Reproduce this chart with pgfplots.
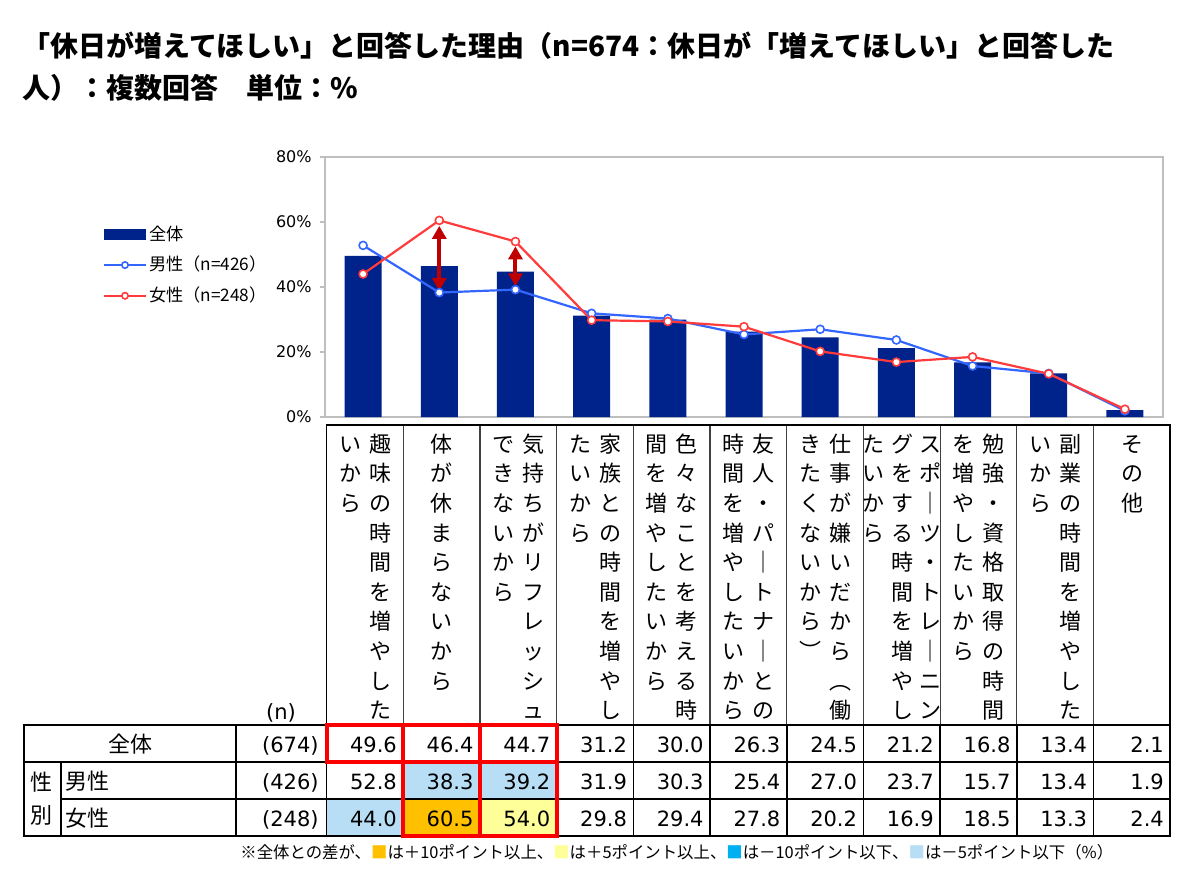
\documentclass[border=0pt]{standalone}
\usepackage{pgfplots}
\pgfplotsset{compat=1.18}
\usetikzlibrary{arrows.meta}
\usepackage{fontspec}
\setmainfont{Noto Sans CJK JP}
\newfontfamily\numfont{DejaVu Sans}
\definecolor{navy}{RGB}{0,34,139}
\definecolor{mblue}{RGB}{51,102,255}
\definecolor{fred}{RGB}{255,59,59}
\definecolor{arrowred}{RGB}{192,0,0}
\definecolor{lblue}{RGB}{183,222,245}
\definecolor{orng}{RGB}{255,192,0}
\definecolor{lyel}{RGB}{255,255,153}
\definecolor{cyanb}{RGB}{0,176,240}
\definecolor{boxred}{RGB}{250,0,0}
\newcommand{\vstrut}{\rule{0pt}{0.9em}}
\newcommand{\vc}[2]{\node[anchor=north, inner sep=0pt, align=center, font=\fontsize{11}{14.8}\selectfont] at (#1,432) {\vstrut #2};}
\pgfplotsset{
  linelegend/.style={legend image code/.code={\draw[mark repeat=2,mark phase=2,mark size=1.6pt,##1] plot coordinates {(0pt,0pt) (10.5pt,0pt) (21pt,0pt)};}},
  barlegend/.style={legend image code/.code={\fill[navy] (0pt,-2.7pt) rectangle (21pt,2.7pt);}}
}
\begin{document}
\begin{tikzpicture}
\begin{scope}[x=0.5pt,y=-0.5pt]
\useasboundingbox (0,0) rectangle (1200,880);
% title
\node[anchor=base west, inner sep=0pt, font=\fontsize{14}{16}\selectfont\bfseries] at (22,56) {「休日が増えてほしい」と回答した理由（n=674：休日が「増えてほしい」と回答した};
\node[anchor=base west, inner sep=0pt, font=\fontsize{14}{16}\selectfont\bfseries] at (22,98) {人）：複数回答　単位：\%};
% cell fills
\fill[lblue] (326.5,799) rectangle (403.2,836);
\fill[lblue] (403.2,762) rectangle (479.9,799);
\fill[lblue] (479.9,762) rectangle (556.6,799);
\fill[orng] (403.2,799) rectangle (479.9,836);
\fill[lyel] (479.9,799) rectangle (556.6,836);
% header box
\draw[black!75, line width=0.6pt] \foreach \k in {1,...,10} {({326.5+76.7*\k},425) -- ({326.5+76.7*\k},725)};
\draw[black, line width=0.8pt] (326.5,725) -- (326.5,425) -- (1170,425) -- (1170,725);
% data table
\draw[black, line width=0.8pt] (24,725) rectangle (1170,836);
\draw[black, line width=0.8pt] (24,762) -- (1170,762);
\draw[black, line width=0.8pt] (61,799) -- (1170,799);
\draw[black, line width=0.8pt] (61,762) -- (61,836);
\draw[black, line width=0.8pt] (236,725) -- (236,836);
\draw[black, line width=0.8pt] \foreach \k in {0,...,10} {({326.5+76.7*\k},725) -- ({326.5+76.7*\k},836)};
% red boxes
\draw[boxred, line width=2pt] (326.5,725) rectangle (403.2,762);
\draw[boxred, line width=2pt] (403.2,725) rectangle (479.9,762);
\draw[boxred, line width=2pt] (479.9,725) rectangle (556.6,762);
\draw[boxred, line width=2pt] (403.2,762) rectangle (479.9,836);
\draw[boxred, line width=2pt] (479.9,762) rectangle (556.6,836);
% category labels (vertical)
\vc{380}{趣\\味\\の\\時\\間\\を\\増\\や\\し\\た}
\vc{350}{い\\か\\ら}
\vc{441.5}{体\\が\\休\\ま\\ら\\な\\い\\か\\ら}
\vc{533}{気\\持\\ち\\が\\リ\\フ\\レ\\ッ\\シ\\ュ}
\vc{503}{で\\き\\な\\い\\か\\ら}
\vc{610}{家\\族\\と\\の\\時\\間\\を\\増\\や\\し}
\vc{580}{た\\い\\か\\ら}
\vc{686.5}{色\\々\\な\\こ\\と\\を\\考\\え\\る\\時}
\vc{656.5}{間\\を\\増\\や\\し\\た\\い\\か\\ら}
\vc{763}{友\\人\\・\\パ\\｜\\ト\\ナ\\｜\\と\\の}
\vc{733}{時\\間\\を\\増\\や\\し\\た\\い\\か\\ら}
\vc{840}{仕\\事\\が\\嫌\\い\\だ\\か\\ら\\︵\\働}
\vc{810}{き\\た\\く\\な\\い\\か\\ら\\︶}
\vc{930}{ス\\ポ\\｜\\ツ\\・\\ト\\レ\\｜\\ニ\\ン}
\vc{902}{グ\\を\\す\\る\\時\\間\\を\\増\\や\\し}
\vc{873}{た\\い\\か\\ら}
\vc{993.5}{勉\\強\\・\\資\\格\\取\\得\\の\\時\\間}
\vc{963.5}{を\\増\\や\\し\\た\\い\\か\\ら}
\vc{1070}{副\\業\\の\\時\\間\\を\\増\\や\\し\\た}
\vc{1040}{い\\か\\ら}
\vc{1132}{そ\\の\\他}
% row labels
\node[anchor=base, inner sep=0pt, font=\numfont\fontsize{10.5}{12}\selectfont] at (281,719) {(n)};
\node[anchor=base, inner sep=0pt, font=\fontsize{11}{13}\selectfont] at (130,752) {全体};
\node[anchor=base, inner sep=0pt, font=\fontsize{11}{13}\selectfont] at (42,790) {性};
\node[anchor=base, inner sep=0pt, font=\fontsize{11}{13}\selectfont] at (42,823) {別};
\node[anchor=base west, inner sep=0pt, font=\fontsize{11}{13}\selectfont] at (65,789) {男性};
\node[anchor=base west, inner sep=0pt, font=\fontsize{11}{13}\selectfont] at (65,826) {女性};
\node[anchor=base east, inner sep=0pt, font=\numfont\fontsize{10.5}{12}\selectfont] at (319,752) {(674)};
\node[anchor=base east, inner sep=0pt, font=\numfont\fontsize{10.5}{12}\selectfont] at (319,789) {(426)};
\node[anchor=base east, inner sep=0pt, font=\numfont\fontsize{10.5}{12}\selectfont] at (319,826) {(248)};
% table values
\foreach \v [count=\i] in {49.6,46.4,44.7,31.2,30.0,26.3,24.5,21.2,16.8,13.4,2.1}
  \node[anchor=base east, inner sep=0pt, font=\numfont\fontsize{10.5}{12}\selectfont] at ({326.5+76.7*\i-6},752) {\v};
\foreach \v [count=\i] in {52.8,38.3,39.2,31.9,30.3,25.4,27.0,23.7,15.7,13.4,1.9}
  \node[anchor=base east, inner sep=0pt, font=\numfont\fontsize{10.5}{12}\selectfont] at ({326.5+76.7*\i-6},789) {\v};
\foreach \v [count=\i] in {44.0,60.5,54.0,29.8,29.4,27.8,20.2,16.9,18.5,13.3,2.4}
  \node[anchor=base east, inner sep=0pt, font=\numfont\fontsize{10.5}{12}\selectfont] at ({326.5+76.7*\i-6},826) {\v};
% footnote
\node[anchor=base west, inner sep=0pt, font=\fontsize{8.2}{10}\selectfont] at (240,858) {※全体との差が、\textcolor{orng}{■}は＋10ポイント以上、\textcolor{lyel}{■}は＋5ポイント以上、\textcolor{cyanb}{■}は－10ポイント以下、\textcolor{lblue}{■}は－5ポイント以下（\%）};
\end{scope}
\begin{axis}[
  at={(162.5pt,-208.5pt)}, anchor=south west,
  width=419pt, height=130pt, scale only axis,
  xmin=0.5, xmax=11.5, ymin=0, ymax=80,
  axis line style={draw=black!25, line width=0.8pt},
  xtick=\empty,
  ytick={0,20,40,60,80},
  yticklabels={0\%,20\%,40\%,60\%,80\%},
  ytick pos=left,
  tick align=outside,
  major tick length=2.5pt,
  tick style={draw=black!25, line width=0.6pt},
  yticklabel style={font=\numfont\fontsize{8}{10}\selectfont, inner sep=0pt, xshift=-4pt},
  legend style={at={(-0.2655,0.745)}, anchor=north west, draw=none, fill=none, font=\fontsize{8.6}{10}\selectfont, row sep=4.5pt, inner sep=0pt, nodes={inner sep=1pt}},
  legend cell align=left,
  clip=false,
]
\addplot[ybar, bar width=18.5pt, fill=navy, draw=none, barlegend]
  coordinates {(1,49.6) (2,46.4) (3,44.7) (4,31.2) (5,30.0) (6,26.3) (7,24.5) (8,21.2) (9,16.8) (10,13.4) (11,2.1)};
\addlegendentry{全体}
\addplot[mblue, line width=1.1pt, mark=*, mark size=2pt, mark options={fill=white, draw=mblue, line width=0.8pt}, linelegend]
  coordinates {(1,52.8) (2,38.3) (3,39.2) (4,31.9) (5,30.3) (6,25.4) (7,27.0) (8,23.7) (9,15.7) (10,13.4) (11,1.9)};
\addlegendentry{男性（n=426）}
\addplot[fred, line width=1.1pt, mark=*, mark size=2pt, mark options={fill=white, draw=fred, line width=0.8pt}, linelegend]
  coordinates {(1,44.0) (2,60.5) (3,54.0) (4,29.8) (5,29.4) (6,27.8) (7,20.2) (8,16.9) (9,18.5) (10,13.3) (11,2.4)};
\addlegendentry{女性（n=248）}
\draw[arrowred, line width=2pt, {Triangle[width=7pt,length=6.5pt]}-{Triangle[width=7pt,length=6.5pt]}] (axis cs:2,58.8) -- (axis cs:2,38.8);
\draw[arrowred, line width=2pt, {Triangle[width=7pt,length=6.5pt]}-{Triangle[width=7pt,length=6.5pt]}] (axis cs:3,52.5) -- (axis cs:3,40.2);
\end{axis}
\end{tikzpicture}
\end{document}
